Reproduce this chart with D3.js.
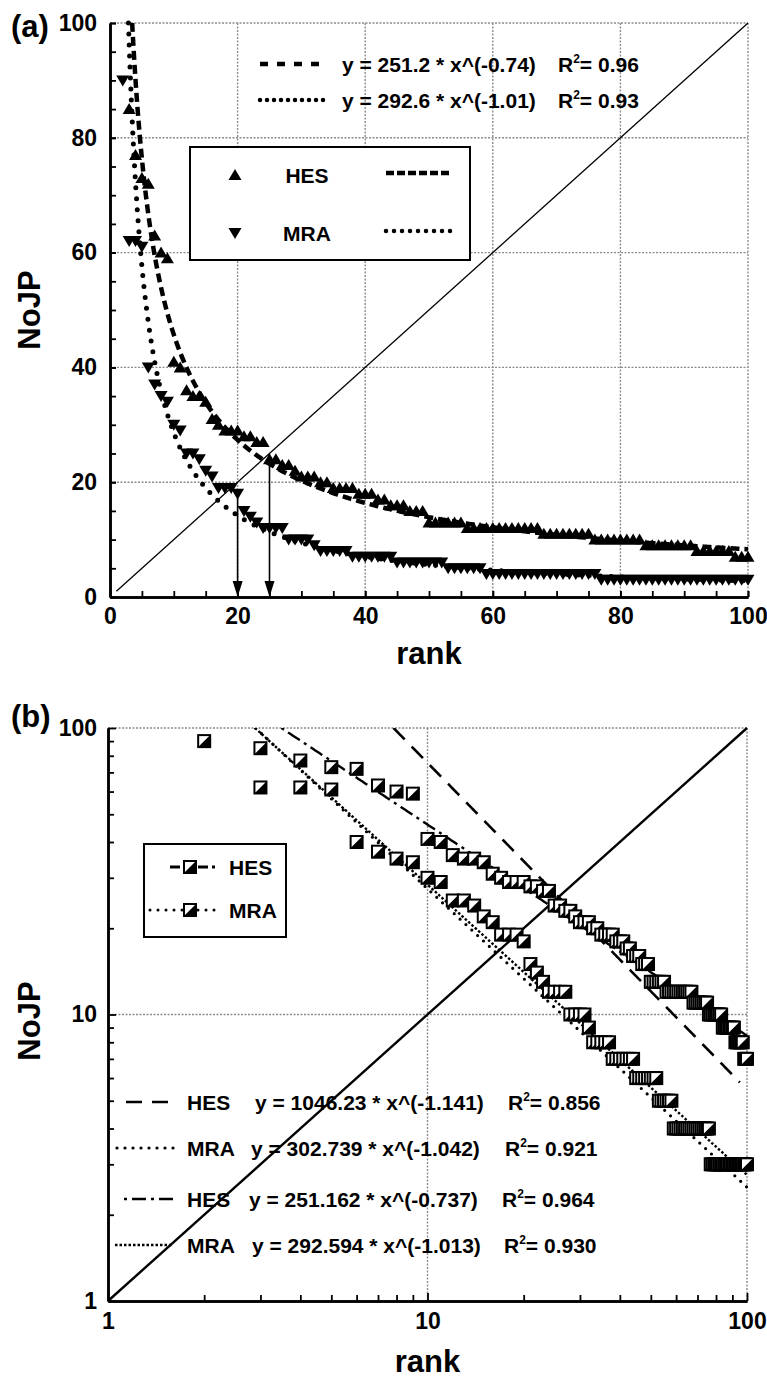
<!DOCTYPE html>
<html><head><meta charset="utf-8">
<script src="https://cdn.jsdelivr.net/npm/d3@7"></script>
<style>
body{margin:0;background:#fff;}
svg{display:block;}
text{font-family:"Liberation Sans",Arial,sans-serif;font-weight:bold;fill:#000;}
</style>
</head><body>
<svg id="c" width="767" height="1378"></svg>
<script>
// ---------------- DATA ----------------
const hesStartRank = 3;
const hesValues = [85,77,73,72,63,60,59,
  41,40,36,35,35,34,31,30,29,29,29,28,28,27,27,
  24,24,23,23,22,21,21,21,20,20,19,19,19,19,
  18,18,18,17,17,16,16,16,15,15,15,
  13,13,13,13,13,13,
  12,12,12,12,12,12,12,12,12,12,12,12,
  11,11,11,11,11,11,11,11,
  10,10,10,10,10,10,10,10,
  9,9,9,9,9,9,9,9,
  8,8,8,8,8,8,
  7,7,7];
const mraStartRank = 2;
const mraValues = [90,62,62,61,40,37,35,34,
  30,29,25,25,24,22,21,19,19,19,18,
  15,14,13,12,12,12,12,10,10,10,10,
  9,8,8,8,8,8,7,7,7,7,7,7,7,
  6,6,6,6,6,6,6,6,
  5,5,5,5,5,5,
  4,4,4,4,4,4,4,4,4,4,4,4,4,4,4,4,4,4,
  3,3,3,3,3,3,3,3,3,3,3,3,3,3,3,3,3,3,3,3,3,3,3,3];
const seriesNames = ["HES","MRA"];

const xTicksA = [0,20,40,60,80,100];
const yTicksA = [0,20,40,60,80,100];
const xMinorA = d3.range(0,101,5);
const yMinorA = d3.range(0,101,5);
const xTicksB = [1,10,100];
const yTicksB = [1,10,100];
const minorB = [2,3,4,5,6,7,8,9,20,30,40,50,60,70,80,90];

// fits panel (a)
const fitCoefA = [251.2, 292.6];
const fitExpA = [-0.74, -1.01];
const fitEqA = ["y = 251.2 * x^(-0.74)", "y = 292.6 * x^(-1.01)"];
const fitR2A = ["0.96", "0.93"];

// fits panel (b)
const fitNameB = ["HES","MRA","HES","MRA"];
const fitCoefB = [1046.23, 302.739, 251.162, 292.594];
const fitExpB = [-1.141, -1.042, -0.737, -1.013];
const fitEndB = [95, 100, 100, 100];
const fitEqB = ["y = 1046.23 * x^(-1.141)","y = 302.739 * x^(-1.042)","y = 251.162 * x^(-0.737)","y = 292.594 * x^(-1.013)"];
const fitR2B = ["0.856","0.921","0.964","0.930"];

// annotation arrows panel (a)
const arrowRanks = [20, 25];
const arrowFrom = [18, 24];

// ---------------- LAYOUT ----------------
const svg = d3.select("#c");
const A = {l:110, r:748, t:23, b:597};
const B = {l:108, r:747, t:728, b:1301};

const xA = d3.scaleLinear().domain([0,100]).range([A.l, A.r]);
const yA = d3.scaleLinear().domain([0,100]).range([A.b, A.t]);
const xB = d3.scaleLog().domain([1,100]).range([B.l, B.r]);
const yB = d3.scaleLog().domain([1,100]).range([B.b, B.t]);

const hes = hesValues.map((v,i)=>({r:hesStartRank+i, v}));
const mra = mraValues.map((v,i)=>({r:mraStartRank+i, v}));

const defs = svg.append("defs");
defs.append("clipPath").attr("id","clipA").append("rect")
  .attr("x",A.l).attr("y",A.t-8).attr("width",A.r-A.l+10).attr("height",A.b-A.t+8);
defs.append("clipPath").attr("id","clipB").append("rect")
  .attr("x",B.l).attr("y",B.t).attr("width",B.r-B.l+10).attr("height",B.b-B.t);

const gridStyle = s => s.attr("stroke","#8c8c8c").attr("stroke-width",1.4).attr("stroke-dasharray","2,1.5").attr("fill","none");

// ================= PANEL A =================
const gA = svg.append("g");
gA.selectAll(".gx").data(xTicksA.filter(d=>d>0)).join("line")
  .attr("x1",d=>xA(d)).attr("x2",d=>xA(d)).attr("y1",A.t).attr("y2",A.b).call(gridStyle);
gA.selectAll(".gy").data(yTicksA.filter(d=>d>0)).join("line")
  .attr("y1",d=>yA(d)).attr("y2",d=>yA(d)).attr("x1",A.l).attr("x2",A.r).call(gridStyle);

function styleAxis(g){
  g.select(".domain").attr("stroke","#000").attr("stroke-width",2.5);
  g.selectAll(".tick line").attr("stroke","#000").attr("stroke-width",1.8);
  g.selectAll("text").attr("font-size",23).attr("font-weight","bold")
    .attr("font-family","'Liberation Sans',Arial,sans-serif").attr("fill","#000");
}
gA.append("g").attr("transform",`translate(0,${A.b})`)
  .call(d3.axisBottom(xA).tickValues(xMinorA).tickFormat("").tickSize(-6).tickSizeOuter(0))
  .call(styleAxis);
gA.append("g").attr("transform",`translate(0,${A.b})`)
  .call(d3.axisBottom(xA).tickValues(xTicksA).tickFormat(d3.format("d")).tickSize(-6).tickSizeOuter(0).tickPadding(11))
  .call(styleAxis);
gA.append("g").attr("transform",`translate(${A.l},0)`)
  .call(d3.axisLeft(yA).tickValues(yMinorA).tickFormat("").tickSize(-6).tickSizeOuter(0))
  .call(styleAxis);
gA.append("g").attr("transform",`translate(${A.l},0)`)
  .call(d3.axisLeft(yA).tickValues(yTicksA).tickFormat(d3.format("d")).tickSize(-6).tickSizeOuter(0).tickPadding(13))
  .call(styleAxis);

gA.append("line").attr("x1",xA(1)).attr("y1",yA(1)).attr("x2",xA(100)).attr("y2",yA(100))
  .attr("stroke","#000").attr("stroke-width",1.3);

const triUp = "M0,-6L6.5,5L-6.5,5Z";
const triDown = "M0,6L6.5,-5L-6.5,-5Z";
const pA = gA.append("g").attr("clip-path","url(#clipA)");
pA.selectAll(".hes").data(hes).join("path").attr("d",triUp)
  .attr("transform",d=>`translate(${xA(d.r)},${yA(d.v)})`).attr("fill","#000");
pA.selectAll(".mra").data(mra).join("path").attr("d",triDown)
  .attr("transform",d=>`translate(${xA(d.r)},${yA(d.v)})`).attr("fill","#000");

const dashA = ["9,5","0,11"];
const capA = ["butt","round"];
const widthA = [4.5,5];
fitCoefA.forEach((a,i)=>{
  const b = fitExpA[i];
  const x0 = Math.pow(100/a, 1/b);
  const pts = d3.range(x0, 100, 0.2).concat([100]).map(x=>[x, a*Math.pow(x,b)]);
  pA.append("path").datum(pts)
    .attr("d", d3.line().x(d=>xA(d[0])).y(d=>yA(d[1])))
    .attr("fill","none").attr("stroke","#000").attr("stroke-width",widthA[i])
    .attr("stroke-dasharray",dashA[i]).attr("stroke-linecap",capA[i]);
});

arrowRanks.forEach((r,i)=>{
  gA.append("line").attr("x1",xA(r)).attr("x2",xA(r)).attr("y1",yA(arrowFrom[i])).attr("y2",A.b-12)
    .attr("stroke","#000").attr("stroke-width",1.6);
  gA.append("path").attr("d",`M${xA(r)},${A.b}L${xA(r)-5},${A.b-16}L${xA(r)+5},${A.b-16}Z`).attr("fill","#000");
});

fitEqA.forEach((t,i)=>{
  const by = 72 + i*36;
  gA.append("line").attr("x1",260).attr("x2",327).attr("y1",by-8).attr("y2",by-8)
    .attr("stroke","#000").attr("stroke-width",4.5)
    .attr("stroke-dasharray", i===0 ? "8,9" : "0,7").attr("stroke-linecap", i===0?"butt":"round");
  gA.append("text").attr("x",342).attr("y",by).attr("font-size",21).text(t);
  const rt = gA.append("text").attr("x",558).attr("y",by).attr("font-size",21);
  rt.append("tspan").text("R");
  rt.append("tspan").attr("font-size",12).attr("dy",-9).text("2");
  rt.append("tspan").attr("dy",9).text("= " + fitR2A[i]);
});

gA.append("rect").attr("x",190).attr("y",147).attr("width",280).attr("height",113)
  .attr("fill","#fff").attr("stroke","#000").attr("stroke-width",2);
[triUp, triDown].forEach((sym,i)=>{
  const cy = 175 + i*58;
  gA.append("path").attr("d",sym).attr("transform",`translate(235,${cy})`).attr("fill","#000");
  gA.append("text").attr("x",307).attr("y",cy+8).attr("text-anchor","middle").attr("font-size",21).text(seriesNames[i]);
  gA.append("line").attr("x1",386).attr("x2",452).attr("y1",cy-2).attr("y2",cy-2)
    .attr("stroke","#000").attr("stroke-width",4.5)
    .attr("stroke-dasharray", i===0 ? "8,3" : "0,8").attr("stroke-linecap", i===0?"butt":"round");
});

svg.append("text").attr("x",11).attr("y",37).attr("font-size",31).text("(a)");
svg.append("text").attr("transform",`translate(40,${(A.t+A.b)/2})rotate(-90)`).attr("text-anchor","middle").attr("font-size",31).text("NoJP");
svg.append("text").attr("x",(A.l+A.r)/2).attr("y",664).attr("text-anchor","middle").attr("font-size",31).text("rank");

// ================= PANEL B =================
const gB = svg.append("g");
gB.selectAll(".gbx").data(xTicksB.filter(d=>d>1)).join("line")
  .attr("x1",d=>xB(d)).attr("x2",d=>xB(d)).attr("y1",B.t).attr("y2",B.b).call(gridStyle);
gB.selectAll(".gby").data(yTicksB.filter(d=>d>1)).join("line")
  .attr("y1",d=>yB(d)).attr("y2",d=>yB(d)).attr("x1",B.l).attr("x2",B.r).call(gridStyle);

gB.append("g").attr("transform",`translate(0,${B.b})`)
  .call(d3.axisBottom(xB).tickValues(minorB).tickFormat("").tickSize(-6).tickSizeOuter(0))
  .call(styleAxis);
gB.append("g").attr("transform",`translate(0,${B.b})`)
  .call(d3.axisBottom(xB).tickValues(xTicksB).tickFormat(d3.format("d")).tickSize(-8).tickSizeOuter(0).tickPadding(12))
  .call(styleAxis);
gB.append("g").attr("transform",`translate(${B.l},0)`)
  .call(d3.axisLeft(yB).tickValues(minorB).tickFormat("").tickSize(-6).tickSizeOuter(0))
  .call(styleAxis);
gB.append("g").attr("transform",`translate(${B.l},0)`)
  .call(d3.axisLeft(yB).tickValues(yTicksB).tickFormat(d3.format("d")).tickSize(-8).tickSizeOuter(0).tickPadding(11))
  .call(styleAxis);

gB.append("line").attr("x1",xB(1)).attr("y1",yB(1)).attr("x2",xB(100)).attr("y2",yB(100))
  .attr("stroke","#000").attr("stroke-width",2.4);

const pB = gB.append("g").attr("clip-path","url(#clipB)");
const dashB = ["16,10","0,8","3,5,14,5","2.5,2"];
const capB = ["butt","round","butt","butt"];
const widthB = [2.6,3.2,2.4,2.4];
fitCoefB.forEach((a,i)=>{
  const b = fitExpB[i];
  const x0 = Math.pow(100/a, 1/b);
  const pts = d3.range(Math.log10(x0), Math.log10(fitEndB[i]), 0.005).concat([Math.log10(fitEndB[i])])
    .map(lx=>{const x=Math.pow(10,lx); return [x, a*Math.pow(x,b)];});
  pB.append("path").datum(pts)
    .attr("d", d3.line().x(d=>xB(d[0])).y(d=>yB(d[1])))
    .attr("fill","none").attr("stroke","#000").attr("stroke-width",widthB[i])
    .attr("stroke-dasharray",dashB[i]).attr("stroke-linecap",capB[i]);
});

const S = 12;
function squareMarker(sel){
  sel.append("rect").attr("x",-S/2).attr("y",-S/2).attr("width",S).attr("height",S)
    .attr("fill","#fff").attr("stroke","#000").attr("stroke-width",2);
  sel.append("path").attr("d",`M${-S/2},${S/2}L${S/2},${-S/2}L${S/2},${S/2}Z`).attr("fill","#000");
}
pB.selectAll(".hb").data(hes).join("g")
  .attr("transform",d=>`translate(${xB(d.r)},${yB(d.v)})`).call(squareMarker);
pB.selectAll(".mb").data(mra).join("g")
  .attr("transform",d=>`translate(${xB(d.r)},${yB(d.v)})`).call(squareMarker);

gB.append("rect").attr("x",144).attr("y",844).attr("width",142).attr("height",93)
  .attr("fill","#fff").attr("stroke","#000").attr("stroke-width",2);
seriesNames.forEach((n,i)=>{
  const cy = 867 + i*43;
  gB.append("line").attr("x1",i===0?170:150).attr("x2",215).attr("y1",cy).attr("y2",cy)
    .attr("stroke","#000").attr("stroke-width",3)
    .attr("stroke-dasharray", i===0 ? "10,4" : "0,8").attr("stroke-linecap", i===0?"butt":"round");
  gB.append("g").attr("transform",`translate(190,${cy})`).call(squareMarker);
  gB.append("text").attr("x",229).attr("y",cy+8).attr("font-size",21).text(n);
});

const eqBase = [1110,1156,1207,1253];
const sampleX1 = [126,117,124,115];
const sampleX2 = [174,178,174,172];
const eqX = [255,251,249,252];
const r2X = [508,505,502,504];
fitEqB.forEach((t,i)=>{
  const by = eqBase[i];
  gB.append("line").attr("x1",sampleX1[i]).attr("x2",sampleX2[i]).attr("y1",by-8).attr("y2",by-8)
    .attr("stroke","#000").attr("stroke-width",i===1?3.2:2.6)
    .attr("stroke-dasharray",dashB[i]).attr("stroke-linecap",capB[i]);
  gB.append("text").attr("x",187).attr("y",by).attr("font-size",21).text(fitNameB[i]);
  gB.append("text").attr("x",eqX[i]).attr("y",by).attr("font-size",21).text(t);
  const rt = gB.append("text").attr("x",r2X[i]).attr("y",by).attr("font-size",21);
  rt.append("tspan").text("R");
  rt.append("tspan").attr("font-size",12).attr("dy",-9).text("2");
  rt.append("tspan").attr("dy",9).text("= " + fitR2B[i]);
});

svg.append("text").attr("x",11).attr("y",727).attr("font-size",31).text("(b)");
svg.append("text").attr("transform",`translate(40,1021)rotate(-90)`).attr("text-anchor","middle").attr("font-size",31).text("NoJP");
svg.append("text").attr("x",(B.l+B.r)/2).attr("y",1372).attr("text-anchor","middle").attr("font-size",31).text("rank");
</script>
</body></html>
